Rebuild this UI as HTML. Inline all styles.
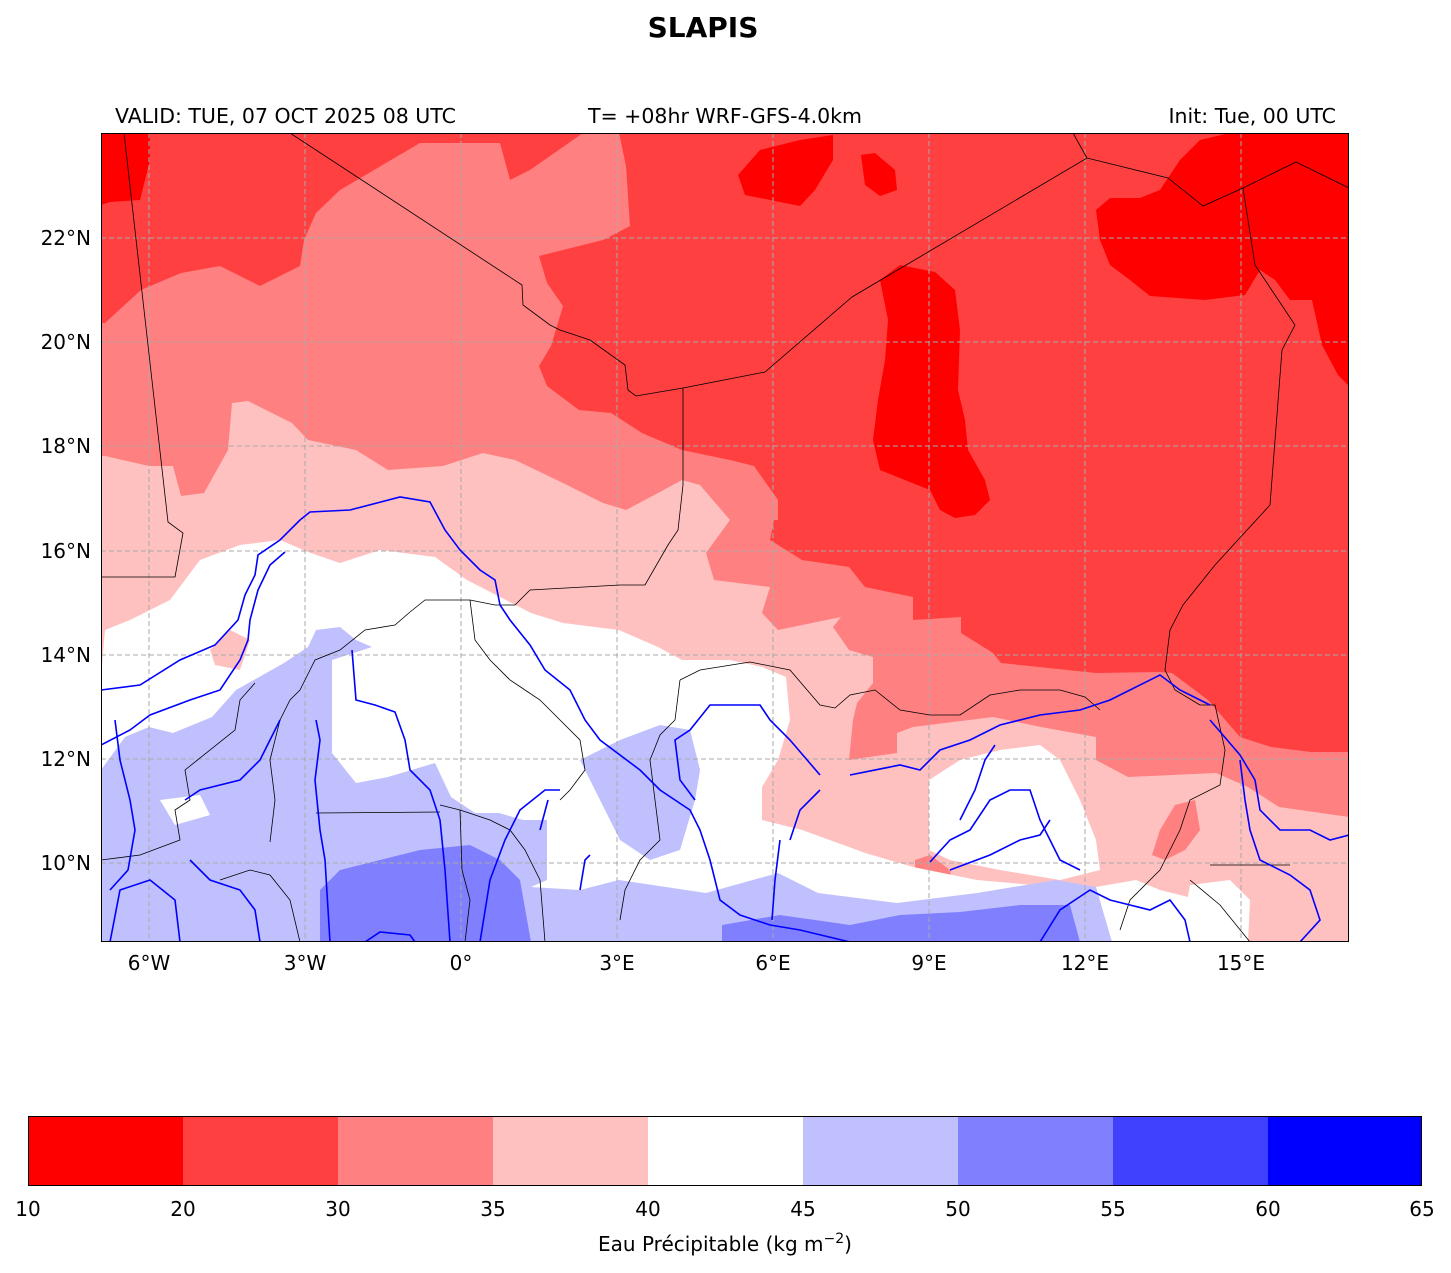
<!DOCTYPE html>
<html><head><meta charset="utf-8"><style>
body{margin:0;background:#fff;}
svg{display:block;font-family:"DejaVu Sans","Liberation Sans",sans-serif;}
</style></head><body>
<svg width="1451" height="1273" viewBox="0 0 1451 1273" xmlns="http://www.w3.org/2000/svg">
<rect width="1451" height="1273" fill="#fff"/>
<text x="703" y="37" font-size="28" font-weight="bold" text-anchor="middle">SLAPIS</text>
<text x="115" y="123" font-size="20.5">VALID: TUE, 07 OCT 2025 08 UTC</text>
<text x="725" y="123" font-size="20.5" text-anchor="middle">T= +08hr WRF-GFS-4.0km</text>
<text x="1336" y="123" font-size="20.5" text-anchor="end">Init: Tue, 00 UTC</text>
<defs><clipPath id="m"><rect x="101" y="133" width="1248" height="809"/></clipPath></defs>
<g clip-path="url(#m)">
<rect x="101" y="133" width="1248" height="809" fill="#ff4040"/>
<polygon fill="#ff8080" points="101,323 105,323 141,290 181,273 220,266 260,286 300,266 304,240 316,213 340,190 403,153 420,143 500,143 510,180 530,170 583,133 619,133 626,166 630,226 603,240 539,256 547,283 563,306 551,346 539,366 547,386 579,410 611,413 642,433 682,450 730,460 754,466 778,500 778,520 774,520 770,540 802,560 849,567 865,587 913,597 913,620 961,617 961,633 993,653 1001,663 1096,673 1160,672 1172,673 1208,700 1240,737 1271,747 1311,752 1349,752 1349,942 101,942"/>
<polygon fill="#ff8080" points="349,360 365,355 385,365 410,368 420,380 400,383 380,378 360,375 348,370"/>
<polygon fill="#ffc0c0" points="101,456 105,456 149,466 173,466 181,496 204,493 228,450 232,403 248,401 292,423 308,440 356,450 388,470 443,466 483,453 515,460 563,483 603,503 626,510 658,493 682,480 700,485 730,520 706,553 714,580 770,587 762,613 778,630 841,617 833,627 849,650 873,657 873,683 857,703 853,720 849,760 897,753 897,733 913,727 993,717 1041,727 1096,737 1096,760 1128,777 1216,773 1248,787 1279,807 1349,817 1349,942 101,942"/>
<polygon fill="#ff8080" points="1160,830 1175,805 1195,800 1200,830 1185,850 1165,860 1152,855"/>
<polygon fill="#ff8080" points="915,860 930,855 950,870 955,905 935,912 915,900"/>
<polygon fill="#fff" points="101,677 105,630 130,620 170,600 200,560 240,545 280,540 308,552 340,563 380,550 435,557 467,580 531,613 563,623 619,630 658,647 682,660 730,660 762,667 786,677 790,720 778,760 762,787 762,820 802,830 849,847 865,853 913,867 977,880 1056,887 1096,887 1136,880 1160,890 1200,900 1248,942 101,942"/>
<polygon fill="#fff" points="929,780 960,760 1000,750 1040,745 1060,760 1080,800 1096,840 1100,870 1060,880 1000,870 950,860 929,850"/>
<polygon fill="#fff" points="1190,885 1230,880 1250,900 1248,942 1180,942"/>
<polygon fill="#ffc0c0" points="210,650 230,630 250,640 240,670 215,665"/>
<polygon fill="#c0c0ff" points="101,770 125,737 149,727 173,733 212,717 236,690 284,663 308,647 316,630 340,627 356,640 372,647 332,660 332,753 356,783 388,777 435,763 451,797 475,813 499,813 523,820 547,820 547,880 531,887 580,890 619,880 706,893 778,873 818,893 897,903 977,893 1056,880 1096,887 1112,942 101,942"/>
<polygon fill="#c0c0ff" points="620,740 660,725 690,730 700,770 695,800 680,850 650,860 620,840 600,800 580,760"/>
<polygon fill="#fff" points="160,800 200,795 210,815 175,825"/>
<polygon fill="#8080ff" points="320,890 340,870 380,860 420,850 470,845 500,860 520,880 531,942 320,942"/>
<polygon fill="#8080ff" points="722,925 780,915 850,925 900,915 960,912 1020,905 1070,905 1080,942 722,942"/>
<polygon fill="#ff0000" points="101,133 150,133 150,160 140,200 110,202 101,205"/>
<polygon fill="#ff0000" points="1247,133 1349,133 1349,386 1338,375 1322,345 1312,300 1290,300 1275,280 1260,270 1245,295 1205,300 1150,296 1130,280 1110,265 1100,240 1096,210 1110,198 1140,198 1160,190 1180,160 1200,140 1230,133"/>
<polygon fill="#ff0000" points="880,280 900,265 935,272 955,290 960,330 958,390 965,420 968,450 985,480 990,500 975,515 955,518 940,510 930,490 905,480 880,470 873,440 878,400 885,360 888,320"/>
<polygon fill="#ff0000" points="738,175 760,150 800,140 833,135 833,160 815,190 800,206 770,200 745,195"/>
<polygon fill="#ff0000" points="861,155 875,153 895,170 897,190 880,196 865,185"/>
<g stroke="#aaa" stroke-width="1" stroke-dasharray="5,3" fill="none">
<path d="M149 133V942M305 133V942M461 133V942M617 133V942M773 133V942M929 133V942M1085 133V942M1241 133V942"/>
<path d="M101 238H1349M101 342H1349M101 446H1349M101 551H1349M101 655H1349M101 759H1349M101 863H1349"/>
</g>
<g stroke="#000" stroke-width="0.8" fill="none">
<polyline points="124,133 168,522 183,533 175,577 101,577"/>
<polyline points="290,133 522,285 523,305 550,325 560,330 590,340 625,365 628,390 636,396 683,388 765,372 852,297 1087,158 1168,178 1203,206 1243,188 1296,162 1349,188"/>
<polyline points="1073,133 1087,158"/>
<polyline points="1243,188 1255,265 1275,295 1295,325 1282,350 1270,505 1215,565 1183,605 1170,630 1165,670 1175,690 1200,705"/>
<polyline points="683,388 683,485 678,530 668,545 645,585 620,585 530,590 515,605 495,605 470,600 440,600 425,600 410,612 395,625 365,630 340,650 315,660 310,670 300,690"/>
<polyline points="470,600 475,640 490,660 510,680 525,690 540,700 560,720 580,740 585,770 570,790 560,800"/>
<polyline points="680,680 700,670 750,662 790,670 820,705 835,708 850,695 875,690 900,710 930,715 960,715 990,695 1020,690 1060,690 1085,697 1100,710"/>
<polyline points="680,680 675,720 660,735 650,760 655,800 660,840 640,860 625,890 620,920"/>
<polyline points="440,805 460,810 490,820 510,830 525,850 540,880 545,942"/>
<polyline points="316,813 440,812"/>
<polyline points="460,810 462,870 470,900 465,942"/>
<polyline points="255,683 240,700 235,730 185,770 190,800 175,810 180,840 140,855 101,860"/>
<polyline points="300,690 290,700 280,720 270,760 275,800 270,842"/>
<polyline points="220,880 250,870 270,875 290,900 300,942"/>
<polyline points="1200,705 1215,705 1225,750 1220,785 1190,800 1180,830 1160,870 1150,880 1130,900 1120,930"/>
<polyline points="1190,880 1220,905 1250,942"/>
<polyline points="1210,865 1290,865"/>
</g>
<g stroke="#0000ff" stroke-width="1.6" fill="none">
<polyline points="101,690 140,685 180,660 215,645 238,620 245,595 255,575 258,555 280,540 300,520 310,512 350,510 400,497 430,502 445,530 460,550 480,570 495,580 500,605 510,620 530,645 545,670 570,690 585,720 600,740 640,770 660,790 690,810 700,830 710,860 720,900 740,915 770,925 800,930 850,942"/>
<polyline points="101,745 130,730 150,715 190,700 220,690 240,660 248,640 250,620 258,590 270,565 285,552"/>
<polyline points="850,775 900,765 920,770 940,750 970,740 1000,725 1040,715 1080,710 1110,700 1130,690 1160,675 1180,690 1200,700 1210,705"/>
<polyline points="820,775 790,740 770,720 760,705 740,705 710,705 690,730 675,740 680,780 695,800"/>
<polyline points="316,720 320,740 315,780 320,830 325,860 330,942"/>
<polyline points="352,650 356,700 375,705 395,712 405,740 410,770 430,790 440,820 445,870 450,942"/>
<polyline points="280,720 270,740 260,760 240,780 200,790 185,800"/>
<polyline points="1210,720 1240,755 1255,780 1260,810 1280,830 1310,830 1330,840 1349,835"/>
<polyline points="1240,760 1245,800 1250,830 1260,860 1290,875 1310,890 1320,920 1300,942"/>
<polyline points="930,862 950,840 970,830 990,800 1010,790 1030,790 1040,820 1060,860 1080,870"/>
<polyline points="950,870 990,855 1020,840 1040,835 1050,820"/>
<polyline points="960,820 975,790 985,760 995,745"/>
<polyline points="1040,942 1060,910 1090,890 1110,900 1130,905 1150,910 1170,900 1185,920 1190,942"/>
<polyline points="490,880 505,840 520,810 545,790 560,790"/>
<polyline points="540,830 548,800"/>
<polyline points="490,880 480,942"/>
<polyline points="580,890 585,860 590,855"/>
<polyline points="115,720 120,760 130,800 135,830 128,870 110,890"/>
<polyline points="110,942 120,890 150,880 175,900 180,942"/>
<polyline points="190,860 210,880 240,890 255,910 260,942"/>
<polyline points="780,840 775,880 772,920"/>
<polyline points="820,790 800,810 790,840"/>
<polyline points="365,942 380,932 410,935 415,942"/>
</g>
</g>
<rect x="101.5" y="133.5" width="1247" height="808" fill="none" stroke="#000" stroke-width="1"/>
<g font-size="20" text-anchor="middle">
<text x="149" y="970">6°W</text><text x="305" y="970">3°W</text><text x="461" y="970">0°</text>
<text x="617" y="970">3°E</text><text x="773" y="970">6°E</text><text x="929" y="970">9°E</text>
<text x="1085" y="970">12°E</text><text x="1241" y="970">15°E</text>
</g>
<g font-size="20" text-anchor="end">
<text x="91" y="245">22°N</text><text x="91" y="349">20°N</text><text x="91" y="453">18°N</text>
<text x="91" y="558">16°N</text><text x="91" y="662">14°N</text><text x="91" y="766">12°N</text>
<text x="91" y="870">10°N</text>
</g>
<g>
<rect x="28" y="1116" width="155" height="70" fill="#ff0000"/>
<rect x="183" y="1116" width="155" height="70" fill="#ff4040"/>
<rect x="338" y="1116" width="155" height="70" fill="#ff8080"/>
<rect x="493" y="1116" width="155" height="70" fill="#ffc0c0"/>
<rect x="648" y="1116" width="155" height="70" fill="#ffffff"/>
<rect x="803" y="1116" width="155" height="70" fill="#c0c0ff"/>
<rect x="958" y="1116" width="155" height="70" fill="#8080ff"/>
<rect x="1113" y="1116" width="155" height="70" fill="#4040ff"/>
<rect x="1268" y="1116" width="154" height="70" fill="#0000ff"/>
<rect x="28.5" y="1116.5" width="1393" height="69" fill="none" stroke="#000"/>
</g>
<g font-size="20" text-anchor="middle">
<text x="28" y="1216">10</text><text x="183" y="1216">20</text><text x="338" y="1216">30</text>
<text x="493" y="1216">35</text><text x="648" y="1216">40</text><text x="803" y="1216">45</text>
<text x="958" y="1216">50</text><text x="1113" y="1216">55</text><text x="1268" y="1216">60</text>
<text x="1422" y="1216">65</text>
<text x="725" y="1251">Eau Précipitable (kg m<tspan dy="-8" font-size="14">−2</tspan><tspan dy="8">)</tspan></text>
</g>
</svg>
</body></html>
